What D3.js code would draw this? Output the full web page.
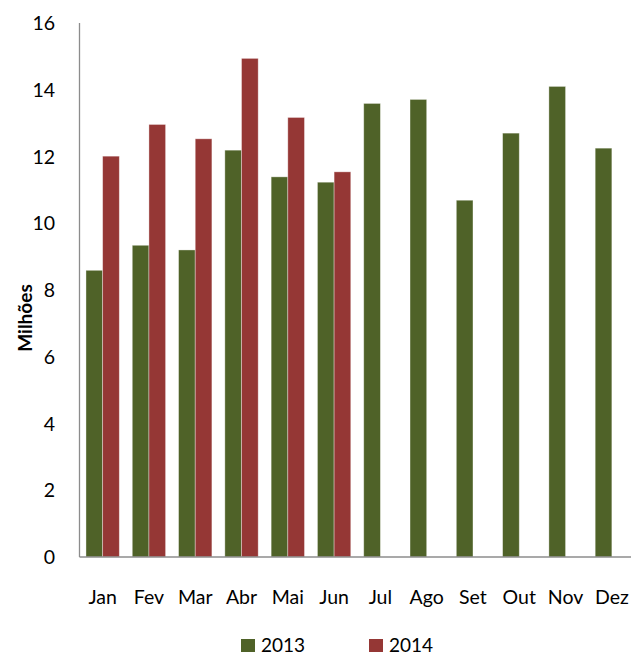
<!DOCTYPE html>
<html>
<head>
<meta charset="utf-8">
<script src="https://cdn.jsdelivr.net/npm/d3@7"></script>
<style>
  html, body { margin: 0; padding: 0; background: #fff; }
  svg { display: block; }
  text { font-family: Lato, "Open Sans", "Liberation Sans", sans-serif; fill: #000; }
</style>
</head>
<body>
<svg id="chart" width="631" height="655"></svg>
<script>
const months = ["Jan","Fev","Mar","Abr","Mai","Jun","Jul","Ago","Set","Out","Nov","Dez"];
const values2013 = [8.59, 9.34, 9.20, 12.19, 11.39, 11.23, 13.59, 13.71, 10.69, 12.70, 14.10, 12.25];
const values2014 = [12.01, 12.96, 12.53, 14.94, 13.17, 11.54, null, null, null, null, null, null];
const seriesNames = ["2013", "2014"];
const seriesColors = ["#4F6228", "#953735"];
const yTicks = [0, 2, 4, 6, 8, 10, 12, 14, 16];
const yAxisTitle = "Milhões";

const svg = d3.select("#chart");
const x0 = 79.5, x1 = 635, yTop = 23, yBottom = 557;

const x = d3.scaleBand().domain(months).range([x0, x1]).paddingInner(0.28).paddingOuter(0.14);
const xs = d3.scaleBand().domain(seriesNames).range([0, x.bandwidth()]);
const y = d3.scaleLinear().domain([0, 16]).range([yBottom, yTop]);

// bars
const seriesData = [values2013, values2014];
seriesData.forEach((vals, si) => {
  svg.append("g").selectAll("rect")
    .data(months.map((m, i) => ({ m, v: vals[i] })).filter(d => d.v != null))
    .join("rect")
    .attr("x", d => x(d.m) + xs(seriesNames[si]))
    .attr("y", d => y(d.v))
    .attr("width", xs.bandwidth())
    .attr("height", d => y(0) - y(d.v))
    .attr("fill", seriesColors[si])
    .attr("stroke", "rgba(255,255,255,0.45)")
    .attr("stroke-width", 0.8);
});

// y axis line
svg.append("line").attr("x1", x0).attr("x2", x0).attr("y1", yTop).attr("y2", yBottom)
  .attr("stroke", "#8c8c8c").attr("stroke-width", 1.3);
// x axis line
svg.append("line").attr("x1", x0).attr("x2", 631).attr("y1", yBottom).attr("y2", yBottom)
  .attr("stroke", "#8c8c8c").attr("stroke-width", 1.3);

// y tick labels
svg.append("g").selectAll("text").data(yTicks).join("text")
  .attr("x", 55).attr("y", d => y(d) + 7)
  .attr("text-anchor", "end")
  .attr("font-size", 19.5).text(d => d);

// x labels
svg.append("g").selectAll("text").data(months).join("text")
  .attr("x", d => x(d) + x.bandwidth() / 2).attr("y", 604)
  .attr("text-anchor", "middle")
  .attr("font-size", 19.5).text(d => d);

// y title
svg.append("text")
  .attr("transform", "translate(32,318) rotate(-90)")
  .attr("text-anchor", "middle")
  .attr("font-size", 19).attr("font-weight", "bold")
  .text(yAxisTitle);

// legend
const legendX = [241, 369];
seriesNames.forEach((s, i) => {
  svg.append("rect").attr("x", legendX[i]).attr("y", 639).attr("width", 14).attr("height", 13)
    .attr("fill", seriesColors[i]);
  svg.append("text").attr("x", legendX[i] + 20).attr("y", 651.5)
    .attr("font-size", 19).text(s);
});
</script>
</body>
</html>
